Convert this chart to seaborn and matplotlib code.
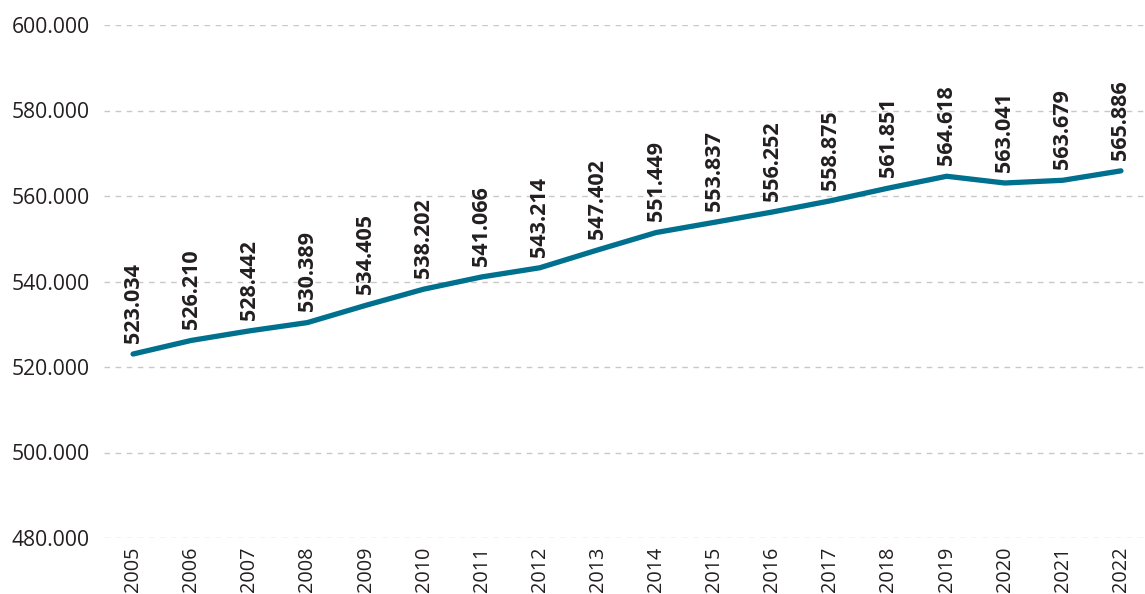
import matplotlib
matplotlib.use("Agg")
import matplotlib.pyplot as plt
import seaborn as sns
import pandas as pd
from matplotlib.ticker import FuncFormatter

years = [2005, 2006, 2007, 2008, 2009, 2010, 2011, 2012, 2013, 2014,
         2015, 2016, 2017, 2018, 2019, 2020, 2021, 2022]
values = [523034, 526210, 528442, 530389, 534405, 538202, 541066, 543214, 547402,
          551449, 553837, 556252, 558875, 561851, 564618, 563041, 563679, 565886]
yticks = [480000, 500000, 520000, 540000, 560000, 580000, 600000]

sns.set_theme(style="white")
plt.rcParams['font.family'] = ['Open Sans', 'DejaVu Sans']

TEXT = "#231f20"
LINE = "#00708f"

def fmt(v):
    return f"{int(v):,}".replace(",", ".")

df = pd.DataFrame({"year": years, "value": values})

fig = plt.figure(figsize=(11.45, 5.94), dpi=100)
ax = fig.add_axes([104/1145, (594-538)/594, 1046/1145, (538-25)/594])

sns.lineplot(data=df, x="year", y="value", ax=ax, color=LINE, linewidth=3.8,
             solid_capstyle="round", solid_joinstyle="round")

for x, y in zip(years, values):
    ax.annotate(fmt(y), (x, y), xytext=(0, 8), textcoords="offset points",
                rotation=90, ha="center", va="bottom", fontsize=15.5,
                fontweight="bold", color=TEXT)

ax.set_xlim(2004.5, 2022.5)
ax.set_ylim(480000, 600000)
ax.set_yticks(yticks)
ax.yaxis.set_major_formatter(FuncFormatter(lambda v, p: fmt(v)))
ax.set_xticks(years)
ax.set_xticklabels([str(y) for y in years], rotation=90, va="top", ha="center")
ax.tick_params(axis="y", length=0, pad=10, labelsize=15.2, labelcolor=TEXT)
ax.tick_params(axis="x", length=0, pad=6, labelsize=14.3, labelcolor=TEXT)
ax.set_xlabel("")
ax.set_ylabel("")
for s in ax.spines.values():
    s.set_visible(False)
ax.yaxis.grid(True, color="#c8c8c8", linestyle=(0, (4, 4)), linewidth=1)
ax.xaxis.grid(False)
ax.set_axisbelow(True)

fig.savefig("out.png", dpi=100)
